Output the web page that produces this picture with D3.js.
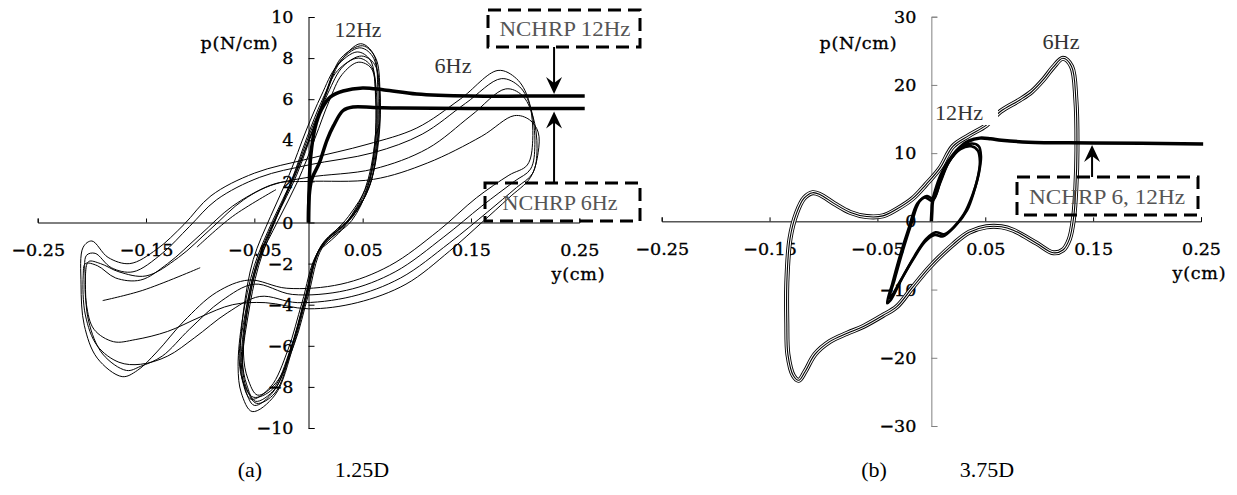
<!DOCTYPE html>
<html>
<head>
<meta charset="utf-8">
<script src="https://cdn.jsdelivr.net/npm/d3@7"></script>
<style>
  body { margin: 0; background: #fff; }
  .note { font-family: "Liberation Serif", serif; font-size: 21px; }
  .cap { font-size: 22px; }
</style>
</head>
<body>
<script>
const width = 1237, height = 495

// ---- data: [y (cm), p (N/cm)] ----
const xTicks = [-0.25, -0.15, -0.05, 0.05, 0.15, 0.25]
const yTicksA = [-10, -8, -6, -4, -2, 0, 2, 4, 6, 8, 10]
const yTicksB = [-30, -20, -10, 0, 10, 20, 30]

// (a) 1.25D, 12Hz test cycles
const a12Cycles = [
  [[-0.050,-8.9],[-0.059,-8.0],[-0.062,-6.8],[-0.058,-4.5],[-0.048,-2.0],[-0.031,0.2],[-0.013,2.2],[0.003,4.4],[0.016,6.2],[0.029,7.8],[0.048,8.7],[0.060,8.2],[0.064,6.5],[0.063,4.0],[0.055,1.8],[0.038,0.2],[0.010,-1.3],[-0.003,-3.7],[-0.016,-6.1],[-0.032,-8.2]],
  [[-0.053,-8.6],[-0.061,-7.7],[-0.063,-6.5],[-0.060,-4.3],[-0.051,-1.8],[-0.035,0.3],[-0.018,2.3],[-0.002,4.5],[0.012,6.2],[0.026,7.6],[0.045,8.3],[0.057,7.9],[0.062,6.3],[0.061,3.8],[0.052,1.6],[0.035,0.0],[0.008,-1.5],[-0.006,-3.9],[-0.019,-6.2],[-0.035,-8.0]],
  [[-0.047,-8.4],[-0.056,-7.6],[-0.060,-6.4],[-0.056,-4.2],[-0.046,-1.9],[-0.028,0.1],[-0.010,2.0],[0.006,4.1],[0.019,5.9],[0.031,7.2],[0.046,7.8],[0.058,7.5],[0.062,6.0],[0.061,3.7],[0.054,1.6],[0.040,0.1],[0.013,-1.2],[0.000,-3.5],[-0.013,-5.9],[-0.030,-7.8]],
  [[-0.052,-9.2],[-0.062,-8.3],[-0.065,-7.0],[-0.061,-4.7],[-0.050,-2.1],[-0.033,0.1],[-0.015,2.1],[0.001,4.3],[0.014,6.0],[0.027,7.7],[0.047,8.5],[0.059,8.1],[0.065,6.6],[0.064,4.2],[0.057,1.9],[0.042,0.4],[0.012,-1.1],[-0.001,-3.5],[-0.014,-6.0],[-0.031,-8.4]],
  [[-0.049,-8.7],[-0.057,-7.9],[-0.061,-6.7],[-0.057,-4.4],[-0.047,-2.0],[-0.030,0.2],[-0.011,2.3],[0.005,4.6],[0.018,6.3],[0.032,7.6],[0.049,8.1],[0.061,7.7],[0.066,6.2],[0.064,3.9],[0.056,1.7],[0.039,0.2],[0.011,-1.2],[-0.002,-3.6],[-0.015,-6.0],[-0.031,-8.1]],
  [[-0.051,-8.5],[-0.060,-7.8],[-0.064,-6.6],[-0.059,-4.6],[-0.049,-2.2],[-0.032,0.0],[-0.016,2.0],[-0.001,4.2],[0.013,6.0],[0.027,7.4],[0.046,8.0],[0.058,7.6],[0.063,6.1],[0.062,3.9],[0.054,1.8],[0.037,0.3],[0.009,-1.4],[-0.004,-3.8],[-0.017,-6.2],[-0.033,-8.1]],
  [[-0.048,-8.8],[-0.057,-8.1],[-0.061,-6.9],[-0.056,-4.6],[-0.046,-2.1],[-0.029,0.3],[-0.012,2.4],[0.004,4.5],[0.017,6.4],[0.030,8.0],[0.050,8.6],[0.062,8.0],[0.066,6.4],[0.065,4.1],[0.057,1.9],[0.041,0.3],[0.012,-1.2],[-0.002,-3.5],[-0.015,-6.0],[-0.031,-8.3]]
]
const a12Tail = [[0.011,-1.3],[0.030,-0.4],[0.050,1.1]]

// (a) 1.25D, 6Hz test cycles
const a6Cycles = [
  [[-0.172,-7.5],[-0.195,-6.6],[-0.207,-5.0],[-0.210,-3.0],[-0.208,-1.2],[-0.200,-0.9],[-0.185,-1.7],[-0.165,-2.0],[-0.140,-1.3],[-0.115,-0.1],[-0.090,1.3],[-0.050,2.4],[0.000,3.1],[0.054,3.8],[0.100,4.6],[0.140,6.0],[0.175,7.4],[0.192,7.0],[0.203,6.0],[0.207,4.0],[0.202,2.8],[0.185,2.3],[0.155,1.2],[0.120,-0.4],[0.075,-2.1],[0.030,-3.0],[-0.020,-3.2],[-0.055,-2.8],[-0.085,-3.4],[-0.115,-4.8],[-0.140,-6.3],[-0.158,-7.2]],
  [[-0.168,-7.2],[-0.190,-6.4],[-0.203,-4.8],[-0.206,-2.8],[-0.205,-1.6],[-0.197,-1.5],[-0.182,-2.2],[-0.162,-2.4],[-0.135,-1.5],[-0.110,-0.2],[-0.085,1.1],[-0.045,2.2],[0.000,2.8],[0.060,3.4],[0.105,4.3],[0.145,5.8],[0.178,7.0],[0.195,6.6],[0.205,5.6],[0.209,3.8],[0.205,2.6],[0.190,2.0],[0.160,0.8],[0.125,-0.7],[0.080,-2.4],[0.035,-3.3],[-0.015,-3.5],[-0.050,-3.0],[-0.080,-3.8],[-0.110,-5.2],[-0.135,-6.5],[-0.155,-7.0]],
  [[-0.175,-6.8],[-0.195,-6.0],[-0.206,-4.5],[-0.208,-2.6],[-0.206,-2.0],[-0.195,-2.1],[-0.178,-2.7],[-0.155,-2.8],[-0.130,-2.0],[-0.100,-0.6],[-0.070,0.8],[-0.035,1.8],[0.000,2.2],[0.060,2.6],[0.110,3.6],[0.150,5.2],[0.182,6.5],[0.197,6.2],[0.207,5.2],[0.211,3.6],[0.207,2.4],[0.192,1.7],[0.165,0.5],[0.130,-1.0],[0.085,-2.7],[0.040,-3.6],[-0.010,-3.9],[-0.045,-3.6],[-0.075,-4.4],[-0.105,-5.6],[-0.130,-6.5],[-0.155,-6.9]],
  [[-0.180,-5.8],[-0.198,-5.2],[-0.205,-4.0],[-0.206,-2.6],[-0.203,-1.9],[-0.192,-2.0],[-0.175,-2.4],[-0.150,-2.6],[-0.120,-1.7],[-0.090,-0.3],[-0.060,1.1],[-0.030,1.9],[0.000,2.0],[0.060,2.1],[0.110,2.9],[0.160,4.2],[0.190,5.2],[0.204,5.0],[0.212,4.4],[0.212,3.4],[0.205,2.2],[0.185,1.2],[0.160,0.0],[0.130,-1.4],[0.090,-3.0],[0.045,-3.9],[0.000,-4.2],[-0.040,-3.9],[-0.070,-4.0],[-0.100,-4.6],[-0.130,-5.3],[-0.160,-5.7]]
]
const a6Tails = [
  [[-0.190,-3.8],[-0.153,-3.3],[-0.100,-2.2]],
  [[-0.030,1.6],[-0.070,0.3],[-0.103,-1.2]]
]

// (a) NCHRP p-y curves
const aNchrp12 = [[0,0],[0.0005,1.5],[0.002,3.2],[0.006,4.6],[0.012,5.5],[0.020,6.1],[0.032,6.4],[0.050,6.55],[0.070,6.45],[0.100,6.25],[0.150,6.15],[0.200,6.15],[0.255,6.15]]
const aNchrp6 = [[0,0],[0.0005,1.2],[0.003,2.1],[0.010,2.9],[0.017,4.0],[0.023,4.7],[0.032,5.45],[0.041,5.62],[0.060,5.60],[0.084,5.57],[0.150,5.55],[0.255,5.55]]

// (b) 3.75D, 6Hz cycle (bundle of repeats)
const b6Cycle = [[0.122,23.9],[0.113,22.6],[0.104,20.8],[0.093,19.0],[0.082,17.8],[0.064,16.1],[0.051,14.1],[0.035,12.6],[0.020,11.0],[0.008,7.8],[-0.005,5.4],[-0.017,3.4],[-0.032,1.8],[-0.045,0.8],[-0.060,0.7],[-0.075,1.3],[-0.090,2.6],[-0.103,3.9],[-0.110,4.2],[-0.118,3.4],[-0.125,1.2],[-0.131,-2.5],[-0.134,-9],[-0.134,-15],[-0.133,-19.5],[-0.128,-22.6],[-0.123,-23.3],[-0.117,-22.0],[-0.108,-19.5],[-0.094,-17.6],[-0.078,-16.4],[-0.063,-15.4],[-0.045,-13.8],[-0.032,-12.5],[-0.018,-9.8],[-0.001,-6.6],[0.020,-3.4],[0.035,-1.6],[0.051,-0.8],[0.065,-0.8],[0.076,-1.3],[0.0975,-3.2],[0.113,-4.6],[0.122,-4.2],[0.128,-2.6],[0.132,0.7],[0.134,5],[0.135,10.5],[0.134,17.8],[0.130,22.7]]

// (b) 3.75D, 12Hz cycles
const b12Cycles = [
  [[-0.041,-12.0],[-0.036,-9.0],[-0.029,-5.0],[-0.021,-1.0],[-0.013,2.6],[-0.006,3.5],[0.001,3.0],[0.008,5.6],[0.016,8.6],[0.026,10.6],[0.037,11.4],[0.044,11.0],[0.046,9.5],[0.044,7.0],[0.040,4.6],[0.033,1.6],[0.022,-0.7],[0.012,-1.9],[0.004,-1.6],[-0.005,-2.6],[-0.016,-5.2],[-0.028,-8.6],[-0.038,-11.6]],
  [[-0.039,-11.3],[-0.034,-8.5],[-0.027,-4.6],[-0.019,-0.6],[-0.011,2.9],[-0.004,3.7],[0.002,3.3],[0.009,6.2],[0.017,8.9],[0.027,10.6],[0.037,11.0],[0.043,10.4],[0.045,8.8],[0.043,6.4],[0.038,3.8],[0.030,1.0],[0.020,-1.0],[0.011,-2.2],[0.003,-2.0],[-0.006,-3.0],[-0.017,-5.6],[-0.029,-8.8],[-0.037,-11.0]]
]

// (b) NCHRP p-y curve (6 and 12Hz)
const bNchrp = [[0,0],[0.0005,1.5],[0.001,2.8],[0.004,4.6],[0.009,6.8],[0.016,8.8],[0.025,10.6],[0.035,11.8],[0.045,12.2],[0.055,12.1],[0.065,11.9],[0.090,11.6],[0.150,11.5],[0.252,11.35]]

// ---- drawing ----
const svg = d3.select('body').append('svg')
  .attr('width', width).attr('height', height)

const panels = {
  a: {
    x: d3.scaleLinear().domain([-0.25, 0.25]).range([37.7, 579.3]),
    y: d3.scaleLinear().domain([-10, 10]).range([428, 17]),
    yTicks: yTicksA, axisColor: '#000'
  },
  b: {
    x: d3.scaleLinear().domain([-0.25, 0.25]).range([661.7, 1201]),
    y: d3.scaleLinear().domain([-30, 30]).range([426, 16.7]),
    yTicks: yTicksB, axisColor: '#808080'
  }
}

function labelFont(sel) {
  sel.attr('font-family', '"DejaVu Serif", serif').attr('font-size', 17.5)
    .attr('fill', '#000').attr('stroke', '#000').attr('stroke-width', 0.35)
}

function drawAxes(pn) {
  const { x, y } = pn
  const gx = svg.append('g')
    .attr('transform', `translate(0,${y(0)})`)
    .call(d3.axisBottom(x).tickValues(xTicks).tickFormat(d3.format('.2f'))
      .tickSize(-4).tickSizeOuter(-4).tickPadding(21))
  gx.selectAll('path,line').attr('stroke', '#000')
  gx.selectAll('text').call(labelFont)
  const gy = svg.append('g')
    .attr('transform', `translate(${x(0)},0)`)
    .call(d3.axisLeft(y).tickValues(pn.yTicks).tickFormat(d3.format('d'))
      .tickSize(-6).tickSizeOuter(-6).tickPadding(15))
  gy.selectAll('path,line').attr('stroke', pn.axisColor)
  gy.selectAll('text').call(labelFont)
}

function line(pn, closed) {
  return d3.line()
    .x((d) => pn.x(d[0]))
    .y((d) => pn.y(d[1]))
    .curve(closed ? d3.curveCatmullRomClosed.alpha(0.5) : d3.curveCatmullRom.alpha(0.5))
}

function drawPath(pn, data, closed, w, color) {
  svg.append('path')
    .attr('d', line(pn, closed)(data))
    .attr('fill', 'none')
    .attr('stroke', color || '#000')
    .attr('stroke-width', w)
    .attr('stroke-linejoin', 'round')
}

function dashedBox(x0, y0, x1, y1) {
  svg.append('rect')
    .attr('x', x0).attr('y', y0).attr('width', x1 - x0).attr('height', y1 - y0)
    .attr('fill', 'none').attr('stroke', '#000')
    .attr('stroke-width', 3).attr('stroke-dasharray', '13,7')
}

function note(txt, cx, cy, len, color) {
  const t = svg.append('text').attr('class', 'note')
    .attr('x', cx).attr('y', cy)
    .attr('text-anchor', 'middle').attr('dominant-baseline', 'central')
    .attr('fill', color || '#555').text(txt)
  if (len) t.attr('textLength', len).attr('lengthAdjust', 'spacingAndGlyphs')
  return t
}

function axisTitle(txt, cx, cy, len) {
  svg.append('text').attr('x', cx).attr('y', cy)
    .attr('text-anchor', 'middle').attr('dominant-baseline', 'central')
    .attr('textLength', len).text(txt).call(labelFont)
}

// arrow from (x, y0) to tip at (x, y1)
function arrow(x, y0, y1) {
  const dir = y1 > y0 ? 1 : -1
  svg.append('line')
    .attr('x1', x).attr('x2', x).attr('y1', y0).attr('y2', y1 - dir * 8)
    .attr('stroke', '#000').attr('stroke-width', 2)
  svg.append('path')
    .attr('d', `M${x},${y1} L${x - 8},${y1 - dir * 17} L${x},${y1 - dir * 11} L${x + 8},${y1 - dir * 17} Z`)
    .attr('fill', '#000')
}

// panel (a)
const A = panels.a
drawAxes(A)
a6Cycles.forEach((c) => drawPath(A, c, true, 1))
a6Tails.forEach((c) => drawPath(A, c, false, 1))
a12Cycles.forEach((c) => drawPath(A, c, true, 1))
drawPath(A, a12Tail, false, 1)
drawPath(A, aNchrp12, false, 3.5)
drawPath(A, aNchrp6, false, 3.5)

note('12Hz', 358, 30, 47, '#333')
note('6Hz', 453, 66, 37, '#333')
dashedBox(488, 10, 640, 47)
note('NCHRP 12Hz', 565, 29, 131)
arrow(A.x(0.2267), 47, A.y(6.15) - 2)
dashedBox(485, 183, 640, 221)
note('NCHRP 6Hz', 560, 203, 115)
arrow(A.x(0.2267), 183, A.y(5.55) + 3)

axisTitle('p(N/cm)', 239, 43, 77)
axisTitle('y(cm)', 578, 274, 53)

// panel (b)
const B = panels.b
drawAxes(B)
// the 6Hz repeats run almost on top of each other: outline strokes give the bundle
drawPath(B, b6Cycle, true, 5, '#000')
drawPath(B, b6Cycle, true, 3.2, '#fff')
drawPath(B, b6Cycle, true, 1.1, '#000')
b12Cycles.forEach((c) => drawPath(B, c, true, 2.6))
drawPath(B, bNchrp, false, 3.5)

svg.append('rect').attr('x', 936).attr('y', 100).attr('width', 62).attr('height', 25).attr('fill', '#fff')
note('12Hz', 959, 113, 48, '#333')
note('6Hz', 1061, 42, 37, '#333')
dashedBox(1017, 177, 1198, 215)
note('NCHRP 6, 12Hz', 1107, 197, 156)
arrow(B.x(0.149), 177, B.y(11.5) + 2)

axisTitle('p(N/cm)', 858, 43, 77)
axisTitle('y(cm)', 1199, 273, 53)

// captions
note('(a)', 250, 469, null, '#000').classed('cap', true)
note('1.25D', 362, 469, null, '#000').classed('cap', true)
note('(b)', 874, 469, null, '#000').classed('cap', true)
note('3.75D', 987, 469, null, '#000').classed('cap', true)
</script>
</body>
</html>
